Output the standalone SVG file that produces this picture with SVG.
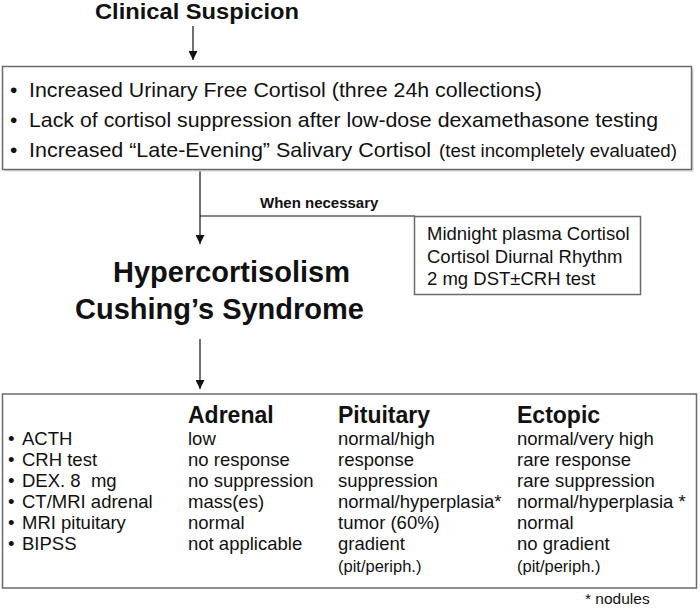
<svg xmlns="http://www.w3.org/2000/svg" width="700" height="609" viewBox="0 0 700 609">
<style>
text{font-family:"Liberation Sans",Arial,Helvetica,sans-serif;fill:#111}
.b{font-weight:bold}
.box{fill:#fff;stroke:#6a6a6a;stroke-width:1.5}
.sh{fill:#d8d8d8}
.ln{stroke:#111;stroke-width:1.2;fill:none}
.t1{font-size:21px}
.t2{font-size:18.5px}
.hd{font-size:23px;font-weight:bold}
.sm{font-size:16.5px}
</style>
<defs>
<marker id="ah" markerUnits="userSpaceOnUse" markerWidth="9" markerHeight="9" refX="9" refY="4.5" orient="auto">
<path d="M0,0 L9,4.5 L0,9 z" fill="#111"/>
</marker>
</defs>
<rect width="700" height="609" fill="#fff"/>

<g id="connectors">
<line class="ln" x1="193" y1="26" x2="193" y2="60" marker-end="url(#ah)"/>
<line class="ln" x1="200" y1="170" x2="200" y2="244" marker-end="url(#ah)"/>
<line class="ln" x1="200" y1="216" x2="415" y2="216"/>
<line class="ln" x1="200" y1="339" x2="200" y2="389" marker-end="url(#ah)"/>
<text class="b" x="260" y="208" font-size="15">When necessary</text>
</g>

<g id="clinical-suspicion">
<text class="b" x="95" y="19" font-size="22" textLength="204" lengthAdjust="spacingAndGlyphs">Clinical Suspicion</text>
</g>

<g id="screening-tests">
<rect class="sh" x="4.5" y="68.5" width="689" height="103"/>
<rect class="box" x="2.5" y="66.5" width="689" height="103"/>
<text class="t1" x="10" y="97">•</text>
<text class="t1" x="29" y="97" textLength="513" lengthAdjust="spacingAndGlyphs">Increased Urinary Free Cortisol (three 24h collections)</text>
<text class="t1" x="10" y="127">•</text>
<text class="t1" x="29" y="127" textLength="629" lengthAdjust="spacingAndGlyphs">Lack of cortisol suppression after low-dose dexamethasone testing</text>
<text class="t1" x="10" y="157">•</text>
<text class="t1" x="29" y="157" textLength="402" lengthAdjust="spacingAndGlyphs">Increased “Late-Evening” Salivary Cortisol</text>
<text x="439" y="157" font-size="17.5" textLength="238" lengthAdjust="spacingAndGlyphs">(test incompletely evaluated)</text>
</g>

<g id="additional-tests">
<rect class="box" x="414.5" y="216.5" width="226" height="78"/>
<text class="t2" x="427" y="240">Midnight plasma Cortisol</text>
<text class="t2" x="427" y="262.5">Cortisol Diurnal Rhythm</text>
<text class="t2" x="427" y="285">2 mg DST±CRH test</text>
</g>

<g id="hypercortisolism">
<text class="b" x="113" y="282" font-size="29">Hypercortisolism</text>
<text class="b" x="75" y="319" font-size="29">Cushing’s Syndrome</text>
</g>

<g id="differential-table">
<rect class="box" x="2.5" y="394" width="694" height="194"/>
<text class="hd" x="188" y="423">Adrenal</text>
<text class="hd" x="338" y="423">Pituitary</text>
<text class="hd" x="517" y="423">Ectopic</text>

<g class="t2">
<text class="t2" x="8" y="445">•</text><text class="t2" x="22" y="445">ACTH</text>
<text class="t2" x="8" y="466">•</text><text class="t2" x="22" y="466">CRH test</text>
<text class="t2" x="8" y="487">•</text><text class="t2" x="22" y="487" style="white-space:pre">DEX. 8  mg</text>
<text class="t2" x="8" y="508">•</text><text class="t2" x="22" y="508">CT/MRI adrenal</text>
<text class="t2" x="8" y="529">•</text><text class="t2" x="22" y="529">MRI pituitary</text>
<text class="t2" x="8" y="550">•</text><text class="t2" x="22" y="550">BIPSS</text>

<text class="t2" x="188" y="445">low</text>
<text class="t2" x="188" y="466">no response</text>
<text class="t2" x="188" y="487">no suppression</text>
<text class="t2" x="188" y="508">mass(es)</text>
<text class="t2" x="188" y="529">normal</text>
<text class="t2" x="188" y="550">not applicable</text>

<text class="t2" x="338" y="445">normal/high</text>
<text class="t2" x="338" y="466">response</text>
<text class="t2" x="338" y="487">suppression</text>
<text class="t2" x="338" y="508">normal/hyperplasia*</text>
<text class="t2" x="338" y="529">tumor (60%)</text>
<text class="t2" x="338" y="550">gradient</text>
<text class="sm" x="338" y="572">(pit/periph.)</text>

<text class="t2" x="517" y="445">normal/very high</text>
<text class="t2" x="517" y="466">rare response</text>
<text class="t2" x="517" y="487">rare suppression</text>
<text class="t2" x="517" y="508">normal/hyperplasia *</text>
<text class="t2" x="517" y="529">normal</text>
<text class="t2" x="517" y="550">no gradient</text>
<text class="sm" x="517" y="572">(pit/periph.)</text>
</g>
</g>

<g id="footnote">
<text x="585" y="604" font-size="15.5">* nodules</text>
</g>
</svg>
